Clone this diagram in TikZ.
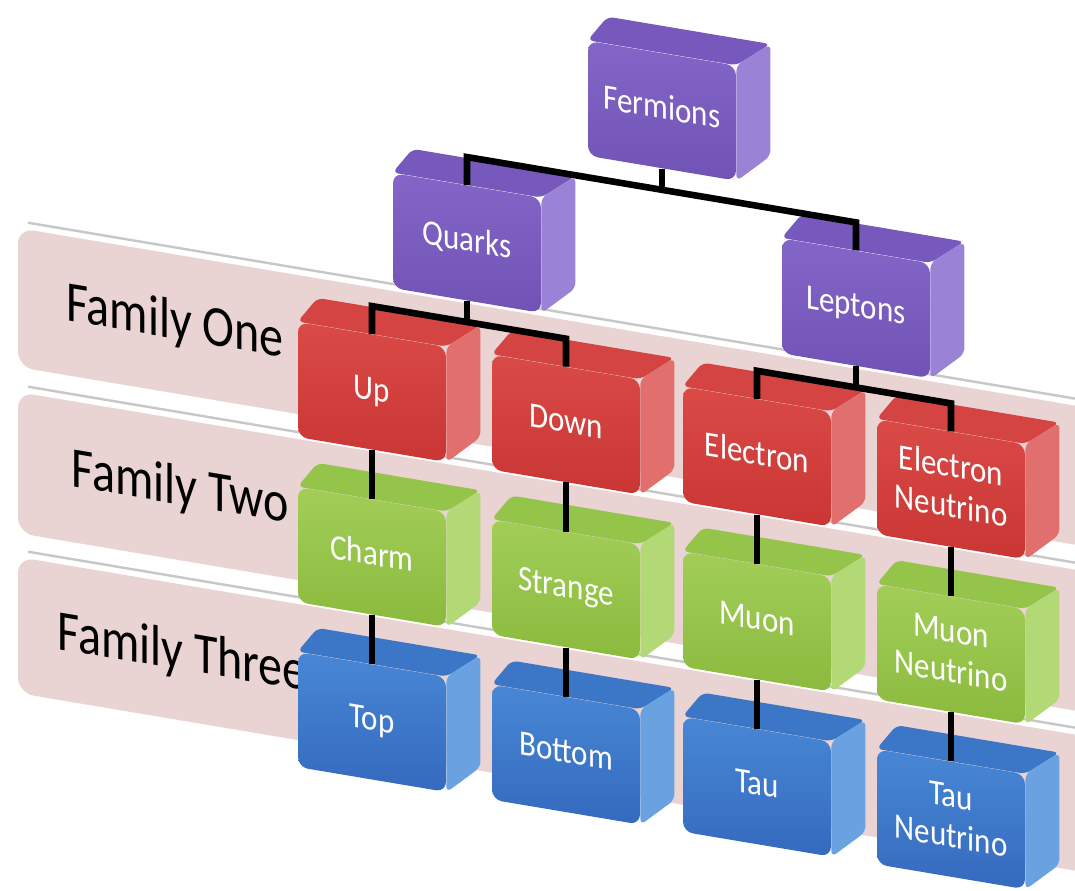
\documentclass[tikz,border=0pt]{standalone}
\usepackage{fontspec}
\setmainfont{Carlito}
\usepackage{graphicx}
\usetikzlibrary{calc}

\definecolor{purpA}{HTML}{8466C9}
\definecolor{purpB}{HTML}{7053B4}
\definecolor{purpT}{HTML}{7759BE}
\definecolor{purpS}{HTML}{9A82D6}
\definecolor{redA}{HTML}{DA4A47}
\definecolor{redB}{HTML}{C93634}
\definecolor{redT}{HTML}{D44442}
\definecolor{redS}{HTML}{E06F6E}
\definecolor{grnA}{HTML}{A2CE58}
\definecolor{grnB}{HTML}{8BBA3E}
\definecolor{grnT}{HTML}{95C44A}
\definecolor{grnS}{HTML}{B3D977}
\definecolor{bluA}{HTML}{4887D5}
\definecolor{bluB}{HTML}{356ABE}
\definecolor{bluT}{HTML}{3C77C7}
\definecolor{bluS}{HTML}{69A1E1}
\definecolor{bandpink}{HTML}{E9D3D3}

\newcommand\boxfont{\fontsize{15.5}{17.5}\selectfont}
\newcommand\famfont{\fontsize{24}{24}\selectfont}
\newcommand\tallbox[1]{\scalebox{1}[1.15]{\begin{tabular}{@{}c@{}}#1\end{tabular}}}

\begin{document}
\begin{tikzpicture}[x=0.5pt,y=-0.5pt,yslant=-0.168,
  cube/.style={minimum width=74pt,minimum height=57.5pt,rounded corners=5pt,transform shape,inner sep=1pt,align=center,text=white,font=\boxfont},
  purpbox/.style={cube,top color=purpA,bottom color=purpB},
  redbox/.style={cube,top color=redA,bottom color=redB},
  grnbox/.style={cube,top color=grnA,bottom color=grnB},
  blubox/.style={cube,top color=bluA,bottom color=bluB},
  face/.style={rounded corners=3pt},
  link/.style={line width=3.3pt,black,line join=miter},
  famlabel/.style={transform shape,font=\famfont,inner sep=0pt,text=black},
  band/.style={fill=bandpink,rounded corners=8pt},
  bandedge/.style={draw=black!22,line width=1.2pt}]
%set diagram size to the reference frame
\useasboundingbox (0,0) -- (1075,-180.6) -- (1075,709.4) -- (0,890) -- cycle;
\fill[white] (0,0) -- (1075,-180.6) -- (1075,709.4) -- (0,890) -- cycle;

% Band
\fill[band] (18,225) -- (1110,225) -- (1110,364) -- (18,364) -- cycle;
\draw[bandedge] (28,218) -- (1110,218);
% Band
\fill[band] (18,389) -- (1110,389) -- (1110,530) -- (18,530) -- cycle;
\draw[bandedge] (28,382) -- (1110,382);
% Band
\fill[band] (18,554) -- (1110,554) -- (1110,690) -- (18,690) -- cycle;
\draw[bandedge] (28,547) -- (1110,547);

% Text Node
\node[famlabel] (famone) at (175,294) {\scalebox{1}[1.2]{Family One}};
% Text Node
\node[famlabel] (famtwo) at (180,459) {\scalebox{1}[1.2]{Family Two}};
% Text Node
\node[famlabel] (famthree) at (182,624) {\scalebox{1}[1.2]{Family Three}};

% Box Node
\node[purpbox] (ferm) at (662,-0.5) {\tallbox{Fermions}};
% Box Node
\node[purpbox] (quarks) at (467,164.5) {\tallbox{Quarks}};
% Box Node
\node[purpbox] (leptons) at (856,164.5) {\tallbox{Leptons}};
% Box Node
\node[redbox] (up) at (372,329.5) {\tallbox{Up}};
% Box Node
\node[redbox] (down) at (566,329.5) {\tallbox{Down}};
% Box Node
\node[redbox] (elec) at (757,329.5) {\tallbox{Electron}};
% Box Node
\node[redbox] (eneu) at (951,329.5) {\tallbox{Electron\\Neutrino}};
% Box Node
\node[grnbox] (charm) at (372,494.5) {\tallbox{Charm}};
% Box Node
\node[grnbox] (strange) at (566,494.5) {\tallbox{Strange}};
% Box Node
\node[grnbox] (muon) at (757,494.5) {\tallbox{Muon}};
% Box Node
\node[grnbox] (mneu) at (951,494.5) {\tallbox{Muon\\Neutrino}};
% Box Node
\node[blubox] (top) at (372,659.5) {\tallbox{Top}};
% Box Node
\node[blubox] (bottom) at (566,659.5) {\tallbox{Bottom}};
% Box Node
\node[blubox] (tau) at (757,659.5) {\tallbox{Tau}};
% Box Node
\node[blubox] (tneu) at (951,659.5) {\tallbox{Tau\\Neutrino}};

% Box Faces
\fill[face,purpT] (ferm.north west) -- ++(20,-27) -- ($(ferm.north east)+(34,-27)$) -- (ferm.north east) -- cycle;
\fill[face,purpS] (ferm.north east) -- ++(34,-27) -- ++(0,112) -- (ferm.south east) -- cycle;
% Box Faces
\fill[face,purpT] (quarks.north west) -- ++(20,-27) -- ($(quarks.north east)+(34,-27)$) -- (quarks.north east) -- cycle;
\fill[face,purpS] (quarks.north east) -- ++(34,-27) -- ++(0,112) -- (quarks.south east) -- cycle;
% Box Faces
\fill[face,purpT] (leptons.north west) -- ++(20,-27) -- ($(leptons.north east)+(34,-27)$) -- (leptons.north east) -- cycle;
\fill[face,purpS] (leptons.north east) -- ++(34,-27) -- ++(0,112) -- (leptons.south east) -- cycle;
% Box Faces
\fill[face,redT] (up.north west) -- ++(20,-27) -- ($(up.north east)+(34,-27)$) -- (up.north east) -- cycle;
\fill[face,redS] (up.north east) -- ++(34,-27) -- ++(0,112) -- (up.south east) -- cycle;
% Box Faces
\fill[face,redT] (down.north west) -- ++(20,-27) -- ($(down.north east)+(34,-27)$) -- (down.north east) -- cycle;
\fill[face,redS] (down.north east) -- ++(34,-27) -- ++(0,112) -- (down.south east) -- cycle;
% Box Faces
\fill[face,redT] (elec.north west) -- ++(20,-27) -- ($(elec.north east)+(34,-27)$) -- (elec.north east) -- cycle;
\fill[face,redS] (elec.north east) -- ++(34,-27) -- ++(0,112) -- (elec.south east) -- cycle;
% Box Faces
\fill[face,redT] (eneu.north west) -- ++(20,-27) -- ($(eneu.north east)+(34,-27)$) -- (eneu.north east) -- cycle;
\fill[face,redS] (eneu.north east) -- ++(34,-27) -- ++(0,112) -- (eneu.south east) -- cycle;
% Box Faces
\fill[face,grnT] (charm.north west) -- ++(20,-27) -- ($(charm.north east)+(34,-27)$) -- (charm.north east) -- cycle;
\fill[face,grnS] (charm.north east) -- ++(34,-27) -- ++(0,112) -- (charm.south east) -- cycle;
% Box Faces
\fill[face,grnT] (strange.north west) -- ++(20,-27) -- ($(strange.north east)+(34,-27)$) -- (strange.north east) -- cycle;
\fill[face,grnS] (strange.north east) -- ++(34,-27) -- ++(0,112) -- (strange.south east) -- cycle;
% Box Faces
\fill[face,grnT] (muon.north west) -- ++(20,-27) -- ($(muon.north east)+(34,-27)$) -- (muon.north east) -- cycle;
\fill[face,grnS] (muon.north east) -- ++(34,-27) -- ++(0,112) -- (muon.south east) -- cycle;
% Box Faces
\fill[face,grnT] (mneu.north west) -- ++(20,-27) -- ($(mneu.north east)+(34,-27)$) -- (mneu.north east) -- cycle;
\fill[face,grnS] (mneu.north east) -- ++(34,-27) -- ++(0,112) -- (mneu.south east) -- cycle;
% Box Faces
\fill[face,bluT] (top.north west) -- ++(20,-27) -- ($(top.north east)+(34,-27)$) -- (top.north east) -- cycle;
\fill[face,bluS] (top.north east) -- ++(34,-27) -- ++(0,112) -- (top.south east) -- cycle;
% Box Faces
\fill[face,bluT] (bottom.north west) -- ++(20,-27) -- ($(bottom.north east)+(34,-27)$) -- (bottom.north east) -- cycle;
\fill[face,bluS] (bottom.north east) -- ++(34,-27) -- ++(0,112) -- (bottom.south east) -- cycle;
% Box Faces
\fill[face,bluT] (tau.north west) -- ++(20,-27) -- ($(tau.north east)+(34,-27)$) -- (tau.north east) -- cycle;
\fill[face,bluS] (tau.north east) -- ++(34,-27) -- ++(0,112) -- (tau.south east) -- cycle;
% Box Faces
\fill[face,bluT] (tneu.north west) -- ++(20,-27) -- ($(tneu.north east)+(34,-27)$) -- (tneu.north east) -- cycle;
\fill[face,bluS] (tneu.north east) -- ++(34,-27) -- ++(0,112) -- (tneu.south east) -- cycle;

% Connection
\draw[link] (ferm.south) -- ++(0,22);
% Connection
\draw[link] (quarks.north) -- ++(0,-28) -- ($(leptons.north)+(0,-28)$) -- (leptons.north);
% Connection
\draw[link] (quarks.south) -- ++(0,22);
% Connection
\draw[link] (up.north) -- ++(0,-28) -- ($(down.north)+(0,-28)$) -- (down.north);
% Connection
\draw[link] (leptons.south) -- ++(0,22);
% Connection
\draw[link] (elec.north) -- ++(0,-28) -- ($(eneu.north)+(0,-28)$) -- (eneu.north);
% Connection
\draw[link] (up.south) -- (charm.north);
% Connection
\draw[link] (charm.south) -- (top.north);
% Connection
\draw[link] (down.south) -- (strange.north);
% Connection
\draw[link] (strange.south) -- (bottom.north);
% Connection
\draw[link] (elec.south) -- (muon.north);
% Connection
\draw[link] (muon.south) -- (tau.north);
% Connection
\draw[link] (eneu.south) -- (mneu.north);
% Connection
\draw[link] (mneu.south) -- (tneu.north);

\end{tikzpicture}
\end{document}
